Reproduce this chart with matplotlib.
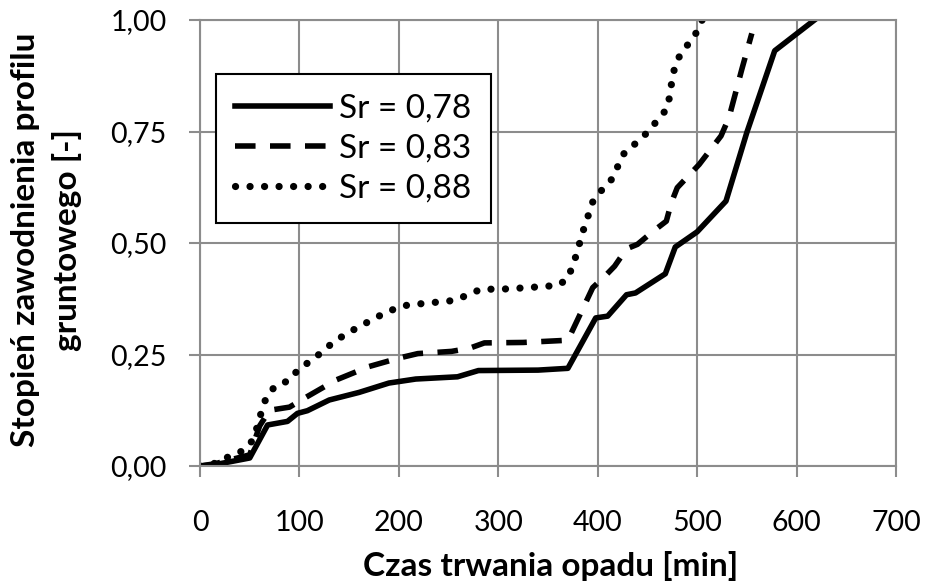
import matplotlib
matplotlib.use("Agg")
import matplotlib.pyplot as plt

# Sr = 0,78
x1 = [0, 15, 50, 68, 88, 98, 108, 130, 160, 190, 217, 259, 280, 340, 370, 398, 410, 429, 438, 468, 478, 500, 529, 550, 578, 618]
y1 = [0, 0.003, 0.018, 0.092, 0.10, 0.118, 0.124, 0.148, 0.165, 0.186, 0.195, 0.20, 0.214, 0.215, 0.219, 0.332, 0.336, 0.384, 0.388, 0.431, 0.491, 0.525, 0.594, 0.748, 0.931, 1.0]
# Sr = 0,83
x2 = [0, 15, 50, 60, 70, 90, 105, 137, 170, 200, 219, 253, 271, 286, 325, 370, 395, 407, 417, 429, 440, 455, 469, 474, 480, 502, 524, 532, 545, 555]
y2 = [0, 0.005, 0.025, 0.09, 0.125, 0.132, 0.152, 0.193, 0.223, 0.242, 0.252, 0.257, 0.264, 0.276, 0.277, 0.282, 0.40, 0.425, 0.448, 0.487, 0.497, 0.525, 0.549, 0.59, 0.624, 0.676, 0.74, 0.781, 0.89, 0.97]
# Sr = 0,88
x3 = [0, 15, 30, 43, 52, 58, 62, 67, 76, 90, 100, 113, 125, 137, 150, 164, 178, 192, 207, 223, 255, 270, 283, 300, 330, 360, 370, 378, 385, 395, 403, 413, 420, 427, 438, 450, 460, 470, 473, 475, 479, 487, 497, 505]
y3 = [0, 0.006, 0.022, 0.034, 0.055, 0.09, 0.124, 0.156, 0.18, 0.192, 0.22, 0.237, 0.261, 0.282, 0.30, 0.317, 0.334, 0.349, 0.36, 0.364, 0.371, 0.384, 0.397, 0.396, 0.40, 0.405, 0.42, 0.47, 0.525, 0.592, 0.616, 0.639, 0.671, 0.703, 0.723, 0.748, 0.775, 0.802, 0.837, 0.871, 0.907, 0.935, 0.962, 1.0]

labels = ["Sr = 0,78", "Sr = 0,83", "Sr = 0,88"]
xticks = [0, 100, 200, 300, 400, 500, 600, 700]
yticks = [0, 0.25, 0.5, 0.75, 1.0]
ytick_labels = ["0,00", "0,25", "0,50", "0,75", "1,00"]
xlabel = "Czas trwania opadu [min]"
ylabel = "Stopień zawodnienia profilu\ngruntowego [-]"

plt.rcParams['font.family'] = ['Lato', 'DejaVu Sans']

W, H = 927, 585
fig = plt.figure(figsize=(W / 100, H / 100), dpi=100)
ax = fig.add_axes([200 / W, 119 / H, 696 / W, 446 / H])

grid_c = "#8c8c8c"
ax.plot(x1, y1, color="black", lw=4.0, ls="-", label=labels[0])
ax.plot(x2, y2, color="black", lw=4.0, ls=(0, (3.7, 2.6)), label=labels[1], dash_capstyle="butt")
ax.plot(x3, y3, color="black", lw=5.2, ls=(0, (0.01, 2.0)), label=labels[2], dash_capstyle="round")

ax.set_xlim(0, 700)
ax.set_ylim(0, 1.0)
ax.set_xticks(xticks)
ax.set_xticklabels([str(v) for v in xticks])
ax.set_yticks(yticks)
ax.set_yticklabels(ytick_labels)
ax.grid(True, color=grid_c, lw=1.5)
ax.set_axisbelow(True)
for s in ax.spines.values():
    s.set_color(grid_c)
    s.set_linewidth(1.5)
ax.tick_params(axis="both", direction="out", length=8, width=1.5, color=grid_c, labelsize=20.5)
ax.tick_params(axis="y", pad=16)
ax.tick_params(axis="x", pad=24)

fig.text(550.5 / W, 1 - 566 / H, xlabel, fontsize=24, fontweight="bold", ha="center", va="center")
fig.text(46.5 / W, 1 - 240 / H, ylabel, fontsize=24, fontweight="bold", ha="center", va="center",
         rotation=90, multialignment="center", linespacing=1.45)

leg = ax.legend(loc="upper left", bbox_to_anchor=(16 / 696, (466 - 74) / 446), fontsize=24, frameon=True,
                fancybox=False, edgecolor="black", handlelength=2.85, handletextpad=0.27,
                borderpad=0.58, labelspacing=0.3, borderaxespad=0)
leg.get_frame().set_linewidth(1.5)
leg.get_frame().set_facecolor("white")
leg.get_frame().set_alpha(1)

fig.savefig("out.png", dpi=100)
